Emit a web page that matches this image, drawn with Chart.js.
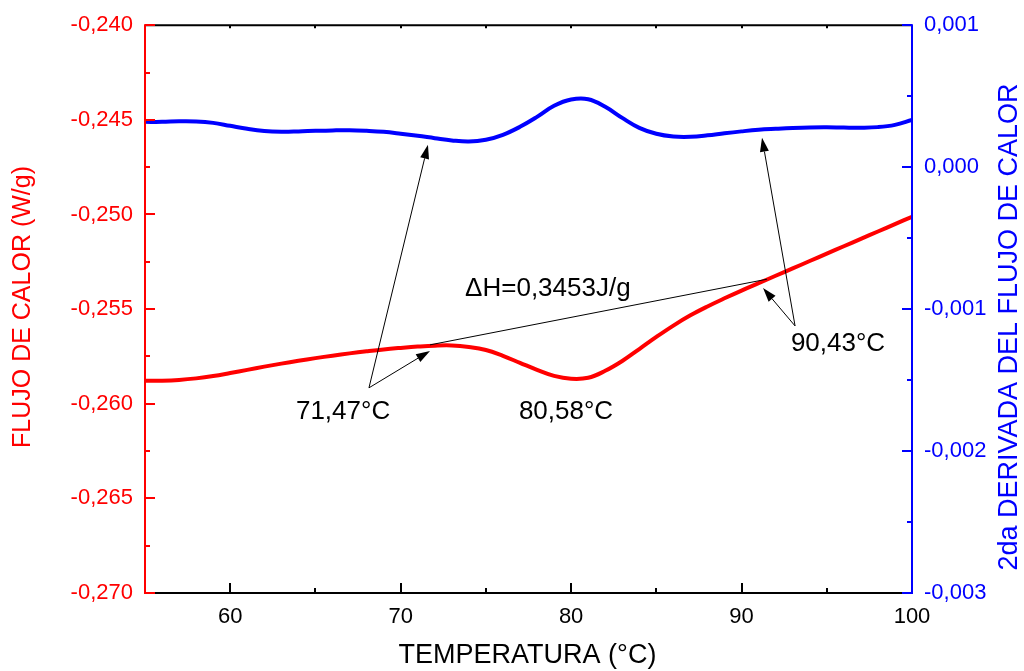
<!DOCTYPE html>
<html>
<head>
<meta charset="utf-8">
<script src="https://cdn.jsdelivr.net/npm/chart.js@4.4.1/dist/chart.umd.min.js"></script>
<style>
  body { margin: 0; background: #fff; }
  canvas { display: block; }
</style>
</head>
<body>
<canvas id="dscChart" width="1024" height="671"></canvas>
<script>
// temperatura (°C)
const temps = [55, 56, 57, 58, 59, 60, 61, 62, 63, 64, 65, 66, 67, 68, 69, 70,
  71, 72, 73, 74, 75, 76, 77, 78, 79, 80, 81, 82, 83, 84, 85, 86, 87, 88, 89, 90,
  91, 92, 93, 94, 95, 96, 97, 98, 99, 100];

// flujo de calor (W/g), eje izquierdo
const heatFlow = [-0.25879, -0.25878, -0.25874, -0.25866, -0.25854, -0.25838,
  -0.25821, -0.25804, -0.25788, -0.25773, -0.25759, -0.25746, -0.25734, -0.25723,
  -0.25713, -0.25705, -0.25698, -0.25693, -0.25692, -0.25700, -0.25716, -0.25747,
  -0.25784, -0.25821, -0.25853, -0.25868, -0.25863, -0.25826, -0.25774, -0.25711,
  -0.25647, -0.25587, -0.25533, -0.25486, -0.25443, -0.25402, -0.25363, -0.25324,
  -0.25285, -0.25246, -0.25207, -0.25168, -0.25129, -0.25090, -0.25051, -0.25012];

// 2da derivada del flujo de calor, eje derecho
const secondDeriv = [0.000319, 0.000319, 0.000323, 0.000322, 0.000312, 0.000291,
  0.000270, 0.000255, 0.000250, 0.000252, 0.000256, 0.000259, 0.000260, 0.000256,
  0.000249, 0.000236, 0.000221, 0.000204, 0.000188, 0.000180, 0.000193, 0.000228,
  0.000284, 0.000354, 0.000432, 0.000476, 0.000478, 0.000425, 0.000347, 0.000277,
  0.000235, 0.000216, 0.000214, 0.000224, 0.000239, 0.000252, 0.000263, 0.000270,
  0.000276, 0.000280, 0.000281, 0.000279, 0.000278, 0.000282, 0.000298, 0.000333];

const xTicks = [60, 70, 80, 90, 100];
const leftTicks = [-0.270, -0.265, -0.260, -0.255, -0.250, -0.245, -0.240];
const rightTicks = [-0.003, -0.002, -0.001, 0.000, 0.001];

// anotaciones (°C, W/g o derivada)
const deltaH = { text: '\u0394H=0,3453J/g', x: 73.78, y: -0.25395 };
const baseline = [[71.72, -0.25689], [91.49, -0.25342]];
const peaks = [
  { text: '71,47\u00B0C', x: 66.62, y: -0.26042, from: [68.14, -0.25916],
    toRed: [71.72, -0.25721], toBlue: [71.60, 0.000158] },
  { text: '80,58\u00B0C', x: 79.70, y: -0.26042 },
  { text: '90,43\u00B0C', x: 95.66, y: -0.25684, from: [93.14, -0.25589],
    toRed: [91.26, -0.25389], toBlue: [91.20, 0.000207] }
];

const FONT = 'Arial, "Liberation Sans", sans-serif';
const fmt3 = v => v.toFixed(3).replace('.', ',').replace('-0,000', '0,000');

function arrow(ctx, x0, y0, x1, y1) {
  const a = Math.atan2(y1 - y0, x1 - x0);
  const L = 14, W = 4.5;
  const bx = x1 - L * Math.cos(a), by = y1 - L * Math.sin(a);
  ctx.beginPath();
  ctx.moveTo(x0, y0);
  ctx.lineTo(bx, by);
  ctx.stroke();
  ctx.beginPath();
  ctx.moveTo(x1, y1);
  ctx.lineTo(bx + W * Math.sin(a), by - W * Math.cos(a));
  ctx.lineTo(bx - W * Math.sin(a), by + W * Math.cos(a));
  ctx.closePath();
  ctx.fill();
}

const decorPlugin = {
  id: 'decor',
  afterDatasetsDraw(chart) {
    const { ctx, scales: { x, y, y1 } } = chart;
    const px = t => x.getPixelForValue(t);
    ctx.save();
    ctx.strokeStyle = '#000';
    ctx.fillStyle = '#000';
    ctx.lineWidth = 1;

    ctx.beginPath();
    ctx.moveTo(px(baseline[0][0]), y.getPixelForValue(baseline[0][1]));
    ctx.lineTo(px(baseline[1][0]), y.getPixelForValue(baseline[1][1]));
    ctx.stroke();

    peaks.forEach(p => {
      if (!p.from) return;
      const fx = px(p.from[0]), fy = y.getPixelForValue(p.from[1]);
      arrow(ctx, fx, fy, px(p.toRed[0]), y.getPixelForValue(p.toRed[1]));
      arrow(ctx, fx, fy, px(p.toBlue[0]), y1.getPixelForValue(p.toBlue[1]));
    });

    ctx.font = '26px ' + FONT;
    ctx.textBaseline = 'middle';
    ctx.textAlign = 'center';
    peaks.forEach(p => ctx.fillText(p.text, px(p.x), y.getPixelForValue(p.y)));
    ctx.textAlign = 'left';
    ctx.fillText(deltaH.text, px(deltaH.x), y.getPixelForValue(deltaH.y));
    ctx.restore();
  },
  afterDraw(chart) {
    const { ctx, chartArea: a, scales: { x, y, y1 } } = chart;
    ctx.save();
    ctx.lineWidth = 2;
    // marco
    ctx.strokeStyle = '#000';
    ctx.beginPath();
    ctx.moveTo(a.left, a.top); ctx.lineTo(a.right, a.top);
    ctx.moveTo(a.left, a.bottom); ctx.lineTo(a.right, a.bottom);
    ctx.stroke();
    // ticks eje x (hacia dentro)
    ctx.beginPath();
    xTicks.forEach(t => {
      const p = Math.round(x.getPixelForValue(t));
      ctx.moveTo(p, a.bottom); ctx.lineTo(p, a.bottom - 10);
      ctx.moveTo(p, a.top); ctx.lineTo(p, a.top + 3);
      const m = Math.round(x.getPixelForValue(t - 5));
      ctx.moveTo(m, a.bottom); ctx.lineTo(m, a.bottom - 5);
      ctx.moveTo(m, a.top); ctx.lineTo(m, a.top + 3);
    });
    ctx.stroke();
    // eje izquierdo
    ctx.strokeStyle = '#ff0000';
    ctx.beginPath();
    ctx.moveTo(a.left, a.top - 1); ctx.lineTo(a.left, a.bottom + 1);
    leftTicks.forEach((t, i) => {
      const p = Math.round(y.getPixelForValue(t));
      ctx.moveTo(a.left, p); ctx.lineTo(a.left + 10, p);
      if (i > 0) {
        const m = Math.round(y.getPixelForValue((t + leftTicks[i - 1]) / 2));
        ctx.moveTo(a.left, m); ctx.lineTo(a.left + 5, m);
      }
    });
    ctx.stroke();
    // eje derecho
    ctx.strokeStyle = '#0000ff';
    ctx.beginPath();
    ctx.moveTo(a.right, a.top - 1); ctx.lineTo(a.right, a.bottom + 1);
    rightTicks.forEach((t, i) => {
      const p = Math.round(y1.getPixelForValue(t));
      ctx.moveTo(a.right, p); ctx.lineTo(a.right - 10, p);
      if (i > 0) {
        const m = Math.round(y1.getPixelForValue((t + rightTicks[i - 1]) / 2));
        ctx.moveTo(a.right, m); ctx.lineTo(a.right - 5, m);
      }
    });
    ctx.stroke();

    // titulos de ejes
    ctx.textBaseline = 'middle';
    ctx.textAlign = 'center';
    ctx.fillStyle = '#000';
    ctx.font = '27px ' + FONT;
    ctx.fillText('TEMPERATURA (\u00B0C)', (a.left + a.right) / 2 - 1, 656);

    ctx.save();
    ctx.translate(23, 307);
    ctx.rotate(-Math.PI / 2);
    ctx.fillStyle = '#ff0000';
    ctx.font = '25px ' + FONT;
    ctx.fillText('FLUJO DE CALOR (W/g)', 0, 0);
    ctx.restore();

    ctx.save();
    ctx.translate(1010, 327);
    ctx.rotate(-Math.PI / 2);
    ctx.fillStyle = '#0000ff';
    ctx.font = '27px ' + FONT;
    ctx.fillText('2da DERIVADA DEL FLUJO DE CALOR', 0, 0);
    ctx.restore();

    ctx.restore();
  }
};

const ctx = document.getElementById('dscChart').getContext('2d');
const chart = new Chart(ctx, {
  type: 'line',
  data: {
    labels: temps,
    datasets: [{
      label: 'Flujo de calor',
      data: heatFlow,
      yAxisID: 'y',
      borderColor: '#ff0000',
      borderWidth: 4,
      pointRadius: 0,
      tension: 0.4,
      fill: false
    }, {
      label: '2da derivada',
      data: secondDeriv,
      yAxisID: 'y1',
      borderColor: '#0000ff',
      borderWidth: 4,
      pointRadius: 0,
      tension: 0.4,
      fill: false
    }]
  },
  options: {
    responsive: false,
    animation: false,
    devicePixelRatio: 1,
    layout: { padding: { top: 23, left: 0, right: 0, bottom: 0 } },
    plugins: { legend: { display: false }, tooltip: { enabled: false } },
    scales: {
      x: {
        type: 'linear',
        min: 55,
        max: 100,
        afterBuildTicks: s => { s.ticks = xTicks.map(value => ({ value })); },
        afterFit: s => { s.height = 78; },
        grid: { display: false, drawTicks: false },
        border: { display: false },
        ticks: { color: '#000', padding: 11, font: { family: FONT, size: 22 } }
      },
      y: {
        position: 'left',
        min: -0.270,
        max: -0.240,
        afterBuildTicks: s => { s.ticks = leftTicks.map(value => ({ value })); },
        afterFit: s => { s.width = 145; },
        grid: { display: false, drawTicks: false },
        border: { display: false },
        ticks: { color: '#ff0000', padding: 12, font: { family: FONT, size: 22 }, callback: v => fmt3(v) }
      },
      y1: {
        position: 'right',
        min: -0.003,
        max: 0.001,
        afterBuildTicks: s => { s.ticks = rightTicks.map(value => ({ value })); },
        afterFit: s => { s.width = 112; },
        grid: { display: false, drawTicks: false },
        border: { display: false },
        ticks: { color: '#0000ff', padding: 12, font: { family: FONT, size: 22 }, callback: v => fmt3(v) }
      }
    }
  },
  plugins: [decorPlugin]
});
</script>
</body>
</html>
